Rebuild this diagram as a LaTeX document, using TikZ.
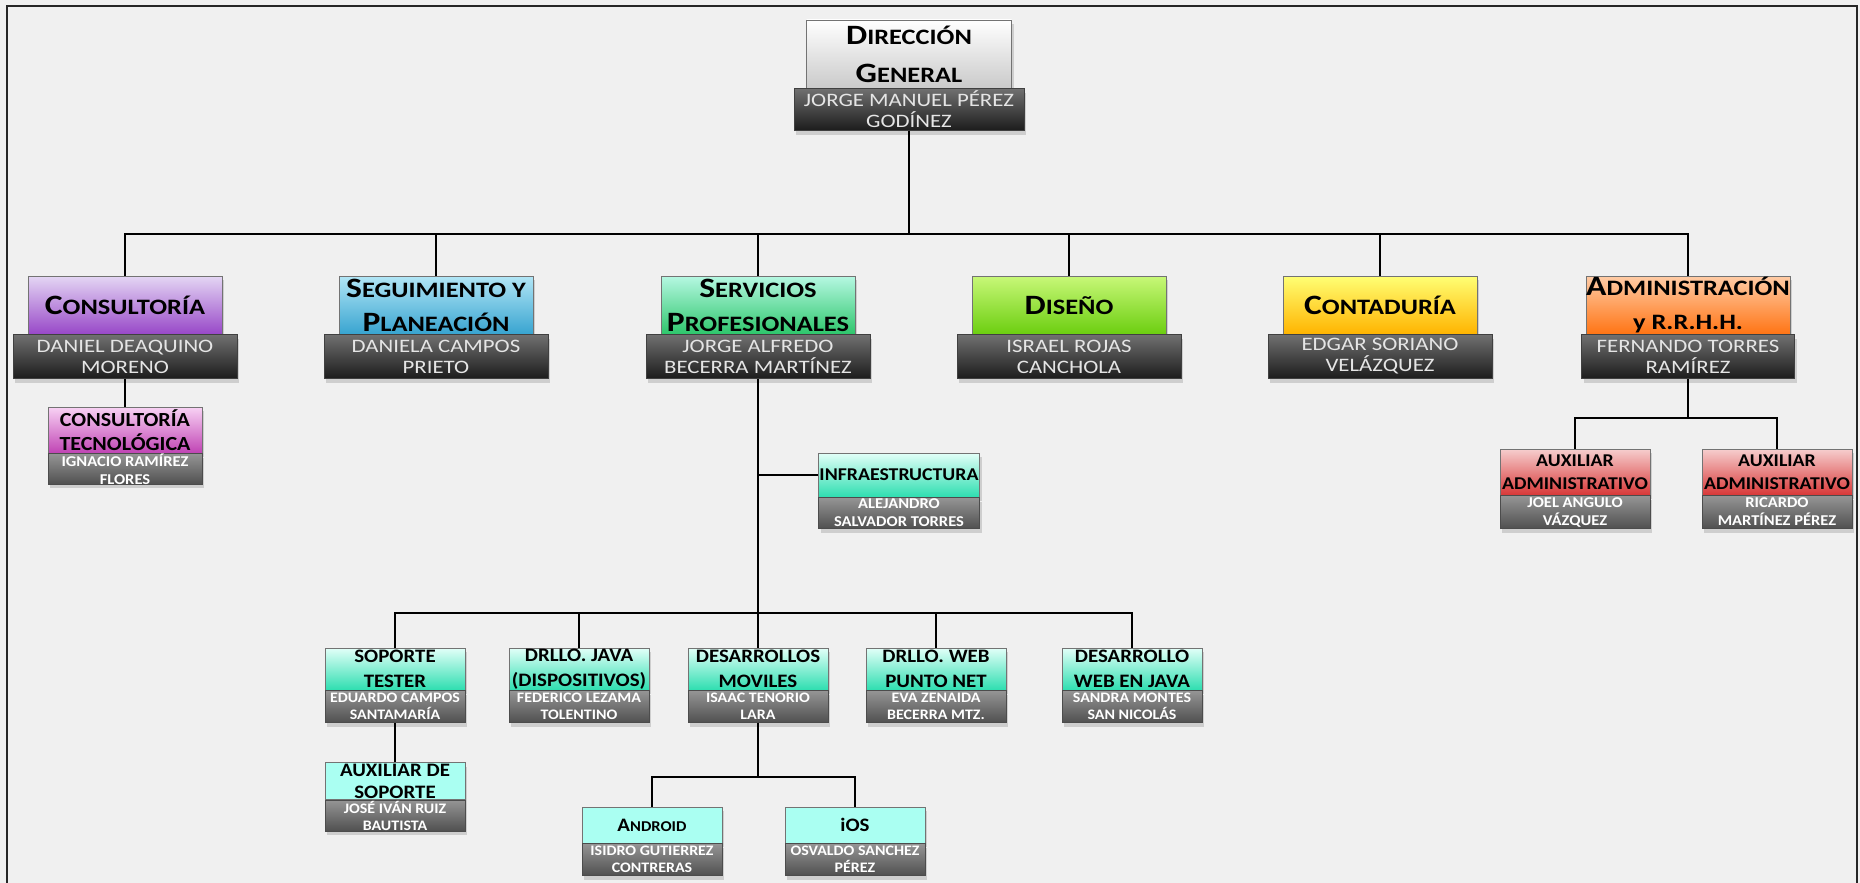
\documentclass[tikz,border=0pt]{standalone}
\usepackage{fontspec}
\setmainfont[FakeStretch=1.2]{Carlito}
\newfontfamily\angosta[FakeStretch=1.1]{Carlito}
\usetikzlibrary{positioning,shadows}

\definecolor{paper}{HTML}{F0F0F0}
\definecolor{dgA}{HTML}{FFFFFF}
\definecolor{dgB}{HTML}{CACACA}
\definecolor{consA}{HTML}{E4D6F4}
\definecolor{consB}{HTML}{9848C8}
\definecolor{segA}{HTML}{B2E6F6}
\definecolor{segB}{HTML}{38A4D0}
\definecolor{servA}{HTML}{B6F8E2}
\definecolor{servB}{HTML}{2EC66C}
\definecolor{disA}{HTML}{C8F878}
\definecolor{disB}{HTML}{6CCE10}
\definecolor{contA}{HTML}{FFFF74}
\definecolor{contB}{HTML}{FFB400}
\definecolor{admA}{HTML}{FFCCA6}
\definecolor{admB}{HTML}{FF7414}
\definecolor{tecA}{HTML}{F8D2F4}
\definecolor{tecB}{HTML}{C044B4}
\definecolor{auxA}{HTML}{F6CECE}
\definecolor{auxB}{HTML}{D83838}
\definecolor{turqA}{HTML}{E2FFF8}
\definecolor{turqB}{HTML}{2EDEB0}
\definecolor{cyanflat}{HTML}{AAFFF2}
\definecolor{nameA}{HTML}{707070}
\definecolor{nameB}{HTML}{1C1C1C}
\definecolor{smallA}{HTML}{959595}
\definecolor{smallB}{HTML}{505050}

\newcommand\ini[2][28]{{\fontsize{#1}{#1}\selectfont #2}}

\tikzset{
  wire/.style={line width=1.5pt, black},
  sombra/.style={drop shadow={opacity=0.3, shadow xshift=2pt, shadow yshift=-4pt}},
  depto/.style 2 args={draw=black!55, line width=0.6pt, top color=#1, bottom color=#2,
    minimum width=194pt, minimum height=58pt, inner sep=0pt, align=center,
    font=\fontsize{22}{34}\selectfont\bfseries, sombra},
  jefe/.style={draw=black!75, line width=0.5pt, top color=nameA, bottom color=nameB,
    minimum width=224pt, minimum height=44pt, inner sep=0pt, align=center,
    text=black!10, font=\fontsize{19}{21}\selectfont, below=0pt of #1, sombra},
  area/.style 2 args={draw=black!55, line width=0.6pt, top color=#1, bottom color=#2,
    minimum width=140pt, minimum height=42pt, inner sep=0pt, align=center,
    font=\angosta\fontsize{19}{25}\selectfont\bfseries, sombra},
  encargado/.style={draw=black!70, line width=0.5pt, top color=smallA, bottom color=smallB,
    minimum width=140pt, minimum height=32pt, inner sep=0pt, align=center,
    text=white, font=\angosta\fontsize{14.5}{17}\selectfont\bfseries, below=0pt of #1, sombra},
}

\begin{document}
\begin{tikzpicture}[x=1pt,y=-1pt]
\fill[paper] (0,0) rectangle (1860,883);
\useasboundingbox (0,0) rectangle (1860,883);
\draw[line width=1.5pt, black!85] (7,883) -- (7,6) -- (1857,6) -- (1857,883);

\node[depto={dgA}{dgB}, minimum width=205pt, minimum height=68pt, font=\fontsize{22}{38}\selectfont\bfseries] (dg) at (909,54) {\ini{D}IRECCIÓN\\\ini{G}ENERAL};
\node[jefe=dg, minimum width=230pt, minimum height=42pt] (dgn) {JORGE MANUEL PÉREZ\\GODÍNEZ};

\node[depto={consA}{consB}] (cons) at (125,305) {\ini{C}ONSULTORÍA};
\node[jefe=cons] (consn) {DANIEL DEAQUINO\\MORENO};
\node[depto={segA}{segB}] (seg) at (436,305) {\ini{S}EGUIMIENTO Y\\\ini{P}LANEACIÓN};
\node[jefe=seg] (segn) {DANIELA CAMPOS\\PRIETO};
\node[depto={servA}{servB}] (serv) at (758,305) {\ini{S}ERVICIOS\\\ini{P}ROFESIONALES};
\node[jefe=serv] (servn) {JORGE ALFREDO\\BECERRA MARTÍNEZ};
\node[depto={disA}{disB}] (dis) at (1069,305) {\ini{D}ISEÑO};
\node[jefe=dis] (disn) {ISRAEL ROJAS\\CANCHOLA};
\node[depto={contA}{contB}] (cont) at (1380,305) {\ini{C}ONTADURÍA};
\node[jefe=cont] (contn) {EDGAR SORIANO\\VELÁZQUEZ};
\node[depto={admA}{admB}, minimum width=204pt] (adm) at (1688,305) {\ini{A}DMINISTRACIÓN\\y R.R.H.H.};
\node[jefe=adm, minimum width=213pt] (admn) {FERNANDO TORRES\\RAMÍREZ};

\node[area={tecA}{tecB}, minimum width=154pt, minimum height=46pt, font=\angosta\fontsize{20}{24}\selectfont\bfseries] (tec) at (125,430) {CONSULTORÍA\\TECNOLÓGICA};
\node[encargado=tec, minimum width=154pt, minimum height=30pt, font=\angosta\fontsize{15}{18}\selectfont\bfseries] (tecn) {IGNACIO RAMÍREZ\\FLORES};

\node[area={auxA}{auxB}, minimum width=150pt, minimum height=46pt, font=\angosta\fontsize{18}{23}\selectfont\bfseries] (aux1) at (1575,472) {AUXILIAR\\ADMINISTRATIVO};
\node[encargado=aux1, minimum width=150pt, minimum height=33pt, font=\angosta\fontsize{15}{18}\selectfont\bfseries] (aux1n) {JOEL ANGULO\\VÁZQUEZ};
\node[area={auxA}{auxB}, minimum width=150pt, minimum height=46pt, font=\angosta\fontsize{18}{23}\selectfont\bfseries] (aux2) at (1777,472) {AUXILIAR\\ADMINISTRATIVO};
\node[encargado=aux2, minimum width=150pt, minimum height=33pt, font=\angosta\fontsize{15}{18}\selectfont\bfseries] (aux2n) {RICARDO\\MARTÍNEZ PÉREZ};

\node[area={turqA}{turqB}, minimum width=161pt, minimum height=44pt, font=\angosta\fontsize{18}{23}\selectfont\bfseries] (infra) at (899,475) {INFRAESTRUCTURA};
\node[encargado=infra, minimum width=161pt, minimum height=31pt, font=\angosta\fontsize{15}{18}\selectfont\bfseries] (infran) {ALEJANDRO\\SALVADOR TORRES};

\node[area={turqA}{turqB}] (sop) at (395,669) {SOPORTE\\TESTER};
\node[encargado=sop] (sopn) {EDUARDO CAMPOS\\SANTAMARÍA};
\node[area={turqA}{turqB}] (java) at (579,669) {DRLLO. JAVA\\(DISPOSITIVOS)};
\node[encargado=java] (javan) {FEDERICO LEZAMA\\TOLENTINO};
\node[area={turqA}{turqB}] (mov) at (758,669) {DESARROLLOS\\MOVILES};
\node[encargado=mov] (movn) {ISAAC TENORIO\\LARA};
\node[area={turqA}{turqB}] (net) at (936,669) {DRLLO. WEB\\PUNTO NET};
\node[encargado=net] (netn) {EVA ZENAIDA\\BECERRA MTZ.};
\node[area={turqA}{turqB}] (wjava) at (1132,669) {DESARROLLO\\WEB EN JAVA};
\node[encargado=wjava] (wjavan) {SANDRA MONTES\\SAN NICOLÁS};

\node[area={cyanflat}{cyanflat}, minimum height=37pt, font=\angosta\fontsize{19}{22}\selectfont\bfseries] (auxsop) at (395,781) {AUXILIAR DE\\SOPORTE};
\node[encargado=auxsop, minimum height=31pt] (auxsopn) {JOSÉ IVÁN RUIZ\\BAUTISTA};
\node[area={cyanflat}{cyanflat}, minimum height=36pt] (andr) at (652,825) {\ini[19]{A}\ini[15]{NDROID}};
\node[encargado=andr] (andrn) {ISIDRO GUTIERREZ\\CONTRERAS};
\node[area={cyanflat}{cyanflat}, minimum height=36pt] (ios) at (855,825) {iOS};
\node[encargado=ios] (iosn) {OSVALDO SANCHEZ\\PÉREZ};

\coordinate (busa) at (909,234);
\coordinate (busb) at (758,613);
\coordinate (busc) at (758,777);
\coordinate (busd) at (1688,418);

\foreach \d in {cons,seg,serv,dis,cont,adm}
  \draw[wire] (dgn.south) |- (busa) -| (\d.north);
\draw[wire] (consn.south) -- (tec.north);
\draw[wire] (servn.south) -- (busb);
\draw[wire] (infra.west) -| (busb);
\foreach \d in {sop,java,mov,net,wjava}
  \draw[wire] (busb) -| (\d.north);
\draw[wire] (sopn.south) -- (auxsop.north);
\draw[wire] (movn.south) -- (busc);
\foreach \d in {andr,ios}
  \draw[wire] (busc) -| (\d.north);
\draw[wire] (admn.south) -- (busd);
\foreach \d in {aux1,aux2}
  \draw[wire] (busd) -| (\d.north);
\end{tikzpicture}
\end{document}
